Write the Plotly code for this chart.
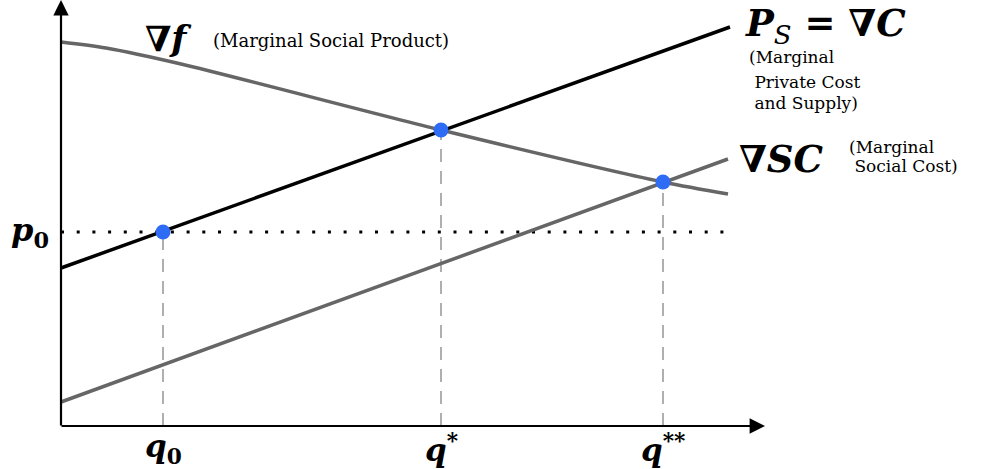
import plotly.graph_objects as go

# quantities / prices (units, origin at the axes corner)
q_labels = ["q0", "q*", "q**"]
q_vals = [102, 380, 602]
p_at_q = [194, 296, 244]
p0 = 194

supply_x = [0, 669]
supply_y = [158, 399]

msp_x = [0, 45, 120, 380, 602, 667]
msp_y = [384, 378, 362, 296, 244, 232]

msc_x = [0, 667]
msc_y = [24, 267]

x_end = 704
y_end = 426

MATH = "DejaVu Serif"
SMALL = "DejaVu Serif"

fig = go.Figure()

# dashed verticals from each point to the q axis
for q, p in zip(q_vals, p_at_q):
    fig.add_trace(go.Scatter(x=[q, q], y=[0, p], mode="lines",
                             line=dict(color="#858585", width=1.3, dash="13px,9px"),
                             hoverinfo="skip"))

# p0 dotted line
fig.add_trace(go.Scatter(x=[0, supply_x[1]], y=[p0, p0], mode="lines",
                         line=dict(color="black", width=3, dash="3px,12.7px"),
                         hoverinfo="skip"))

fig.add_trace(go.Scatter(x=msp_x, y=msp_y, mode="lines",
                         line=dict(color="#666666", width=3.5, shape="spline", smoothing=0.8)))
fig.add_trace(go.Scatter(x=msc_x, y=msc_y, mode="lines",
                         line=dict(color="#666666", width=3.5)))
fig.add_trace(go.Scatter(x=supply_x, y=supply_y, mode="lines",
                         line=dict(color="black", width=3.5)))

fig.add_trace(go.Scatter(x=q_vals, y=p_at_q, mode="markers",
                         marker=dict(color="#2f6cf6", size=15)))

# axes with arrowheads
fig.add_annotation(x=0, y=y_end, ax=0, ay=-1, xref="x", yref="y", axref="x", ayref="y",
                   showarrow=True, arrowhead=2, arrowsize=1.4, arrowwidth=2.2,
                   arrowcolor="black", text="")
fig.add_annotation(x=x_end, y=0, ax=-1, ay=0, xref="x", yref="y", axref="x", ayref="y",
                   showarrow=True, arrowhead=2, arrowsize=1.4, arrowwidth=2.2,
                   arrowcolor="black", text="")

# q tick labels
q_text = ["<b><i>q</i><sub>0</sub></b>", "<b><i>q</i><sup>*</sup></b>", "<b><i>q</i><sup>**</sup></b>"]
for q, t in zip(q_vals, q_text):
    fig.add_annotation(x=q, y=-22, text=t, showarrow=False,
                       font=dict(family=MATH, size=31, color="black"))

fig.add_annotation(x=-31, y=p0, text="<b><i>p</i><sub>0</sub></b>", showarrow=False,
                   font=dict(family=MATH, size=32, color="black"))

# curve labels
fig.add_annotation(x=82, y=388, xanchor="left", text="<b>∇<i>f</i></b>", showarrow=False,
                   font=dict(family=MATH, size=35, color="black"))
fig.add_annotation(x=150, y=386, xanchor="left", text="(Marginal Social Product)",
                   showarrow=False, font=dict(family=SMALL, size=18, color="black"))

fig.add_annotation(x=682, y=401, xanchor="left",
                   text="<b><i>P</i></b><sub><i>S</i></sub><b> = ∇<i>C</i></b>",
                   showarrow=False, font=dict(family=MATH, size=37, color="black"))
for txt, yy in zip(["(Marginal", "&nbsp;Private Cost", "&nbsp;and Supply)"], [369, 344, 323]):
    fig.add_annotation(x=686, y=yy, xanchor="left", text=txt,
                       showarrow=False, font=dict(family=SMALL, size=17, color="black"))

fig.add_annotation(x=676, y=267, xanchor="left", text="<b>∇<i>SC</i></b>", showarrow=False,
                   font=dict(family=MATH, size=37, color="black"))
for txt, yy in zip(["(Marginal", "&nbsp;Social Cost)"], [279, 260]):
    fig.add_annotation(x=786, y=yy, xanchor="left", text=txt,
                       showarrow=False, font=dict(family=SMALL, size=17, color="black"))

fig.update_xaxes(range=[-61, 937], visible=False, fixedrange=True)
fig.update_yaxes(range=[-43, 426], visible=False, fixedrange=True)
fig.update_layout(width=998, height=469, margin=dict(l=0, r=0, t=0, b=0),
                  plot_bgcolor="white", paper_bgcolor="white", showlegend=False)

fig.write_html("out.html", config={"displayModeBar": False},
               post_script="document.body.style.margin='0';")
